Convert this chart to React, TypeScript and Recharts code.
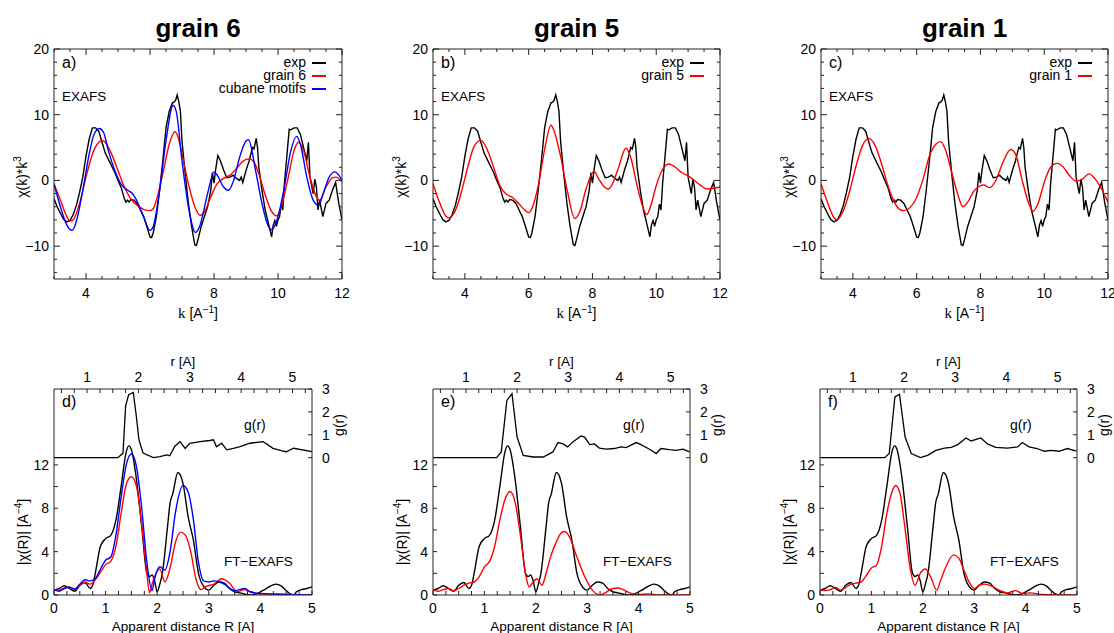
import React from 'react';
import { LineChart, Line, XAxis, YAxis } from 'recharts';

const FONT = '"Liberation Sans", Arial, Helvetica, sans-serif';
const INK = '#222';
const RED = '#ff0000';
const BLUE = '#0000ff';
const BLACK = '#000000';

type P = [number, number];

// ---------- EXAFS chi(k)*k^3 ----------
const expChi: P[] = [
  [3.0, -2.8], [3.1, -4.0], [3.2, -5.0], [3.3, -5.9], [3.4, -6.3], [3.5, -6.1], [3.6, -5.2], [3.7, -3.8],
  [3.8, -1.8], [3.9, 0.5], [4.0, 3.7], [4.1, 6.3], [4.2, 8.0], [4.3, 8.0], [4.4, 7.5], [4.5, 5.8],
  [4.6, 4.2], [4.7, 3.2], [4.8, 2.2], [4.9, 1.2], [5.0, 0], [5.1, -1.1], [5.2, -2.8], [5.25, -3.3],
  [5.3, -3.0], [5.35, -3.3], [5.4, -2.9], [5.5, -3.0], [5.6, -3.5], [5.7, -4.5], [5.8, -5.5], [5.9, -7.0],
  [6.0, -8.6], [6.05, -8.7], [6.1, -8.0], [6.2, -5.5], [6.3, -1.5], [6.4, 3.0], [6.5, 8.0], [6.6, 10.5],
  [6.7, 11.8], [6.75, 11.9], [6.8, 12.2], [6.85, 13.0], [6.9, 12.0], [6.95, 10.5], [7.0, 6.0], [7.1, 1.0],
  [7.2, -3.5], [7.3, -7.0], [7.4, -9.8], [7.45, -9.9], [7.5, -9.0], [7.6, -7.0], [7.7, -5.5], [7.8, -4.0],
  [7.9, -1.5], [7.95, 1.2], [8.0, -0.4], [8.05, 1.6], [8.12, 3.8], [8.2, 3.0], [8.3, 1.6], [8.4, 0.4],
  [8.5, 0.5], [8.6, 0.8], [8.7, 0.3], [8.8, 0], [8.85, 0.5], [8.9, -0.3], [9.0, 1.5], [9.1, 3.0],
  [9.2, 5.0], [9.25, 4.8], [9.32, 6.4], [9.36, 5.0], [9.4, 2.0], [9.5, -1.5], [9.6, -4.5], [9.7, -6.5],
  [9.8, -8.6], [9.85, -6.8], [9.9, -6.1], [9.95, -7.0], [10.0, -6.0], [10.05, -5.5], [10.1, -3.6], [10.15, -4.5],
  [10.2, -0.5], [10.3, 5.0], [10.35, 7.8], [10.4, 7.7], [10.5, 8.0], [10.6, 8.0], [10.7, 7.0], [10.8, 5.0],
  [10.9, 3.0], [10.95, 5.8], [11.0, 0.5], [11.05, -0.8], [11.1, -2.0], [11.15, 0.2], [11.2, -1.0], [11.25, -4.5],
  [11.3, -3.0], [11.4, -5.5], [11.5, -3.5], [11.6, -3.0], [11.7, -1.5], [11.8, -0.3], [11.9, -3.5], [12.0, -6.0],
];

const grain6Chi: P[] = [
  [3.0, -0.5], [3.2, -3.0], [3.4, -5.5], [3.5, -6.2], [3.6, -6.0], [3.8, -3.5], [4.0, 0.5], [4.2, 4.0],
  [4.4, 5.8], [4.5, 6.1], [4.6, 5.8], [4.8, 4.0], [5.0, 1.5], [5.2, -1.0], [5.4, -2.8], [5.6, -3.8],
  [5.8, -4.4], [6.0, -4.6], [6.1, -4.3], [6.2, -3.0], [6.4, 1.0], [6.6, 5.5], [6.78, 7.4], [6.9, 6.2],
  [7.0, 4.0], [7.2, -0.5], [7.4, -4.0], [7.57, -5.3], [7.7, -4.8], [7.9, -2.5], [8.1, -0.5], [8.3, 0.3],
  [8.5, 0.8], [8.7, 1.8], [8.9, 2.9], [9.1, 3.3], [9.25, 2.8], [9.4, 1.0], [9.6, -2.2], [9.8, -4.7],
  [9.97, -5.4], [10.1, -4.0], [10.3, 0.0], [10.5, 4.5], [10.64, 5.8], [10.8, 4.5], [11.0, 0.5], [11.2, -2.5],
  [11.3, -3.0], [11.5, -1.0], [11.7, 0.4], [11.8, 0.5], [12.0, -0.2],
];

const cubaneChi: P[] = [
  [3.0, -0.5], [3.2, -4.0], [3.4, -6.8], [3.57, -7.6], [3.7, -6.2], [3.9, -1.5], [4.1, 4.0], [4.25, 7.0],
  [4.42, 7.9], [4.55, 7.3], [4.7, 4.5], [4.9, 1.5], [5.1, -0.6], [5.3, -1.5], [5.45, -2.0], [5.6, -3.2],
  [5.8, -5.5], [6.0, -7.6], [6.1, -7.0], [6.3, -1.5], [6.5, 6.0], [6.72, 11.4], [6.82, 10.5], [7.0, 3.0],
  [7.2, -4.0], [7.42, -7.9], [7.55, -7.0], [7.8, -2.0], [8.0, 1.3], [8.1, 0.8], [8.3, -1.0], [8.45, -1.5],
  [8.6, -0.2], [8.8, 3.5], [9.0, 6.0], [9.08, 6.2], [9.3, 1.5], [9.5, -3.5], [9.7, -7.0], [9.81, -7.5],
  [10.0, -5.5], [10.2, -1.0], [10.4, 4.5], [10.58, 6.7], [10.7, 5.5], [10.9, 0.5], [11.1, -3.0], [11.27, -3.8],
  [11.4, -2.2], [11.6, 0.5], [11.78, 1.3], [11.9, 0.8], [12.0, 0.0],
];

const grain5Chi: P[] = [
  [3.0, -0.5], [3.2, -3.3], [3.4, -5.4], [3.5, -5.7], [3.7, -4.6], [3.9, -1.6], [4.1, 2.2], [4.3, 5.3],
  [4.5, 6.1], [4.7, 4.7], [4.9, 2.0], [5.1, -0.8], [5.3, -2.1], [5.5, -2.6], [5.7, -3.6], [5.9, -4.6],
  [6.0, -4.9], [6.1, -4.3], [6.3, -0.8], [6.5, 4.7], [6.7, 8.4], [6.8, 7.5], [7.0, 3.7], [7.2, -1.3],
  [7.45, -5.8], [7.6, -4.8], [7.8, -1.3], [8.05, 1.4], [8.2, 0.2], [8.4, -1.1], [8.5, -1.3], [8.6, -0.8],
  [8.8, 1.7], [9.05, 4.9], [9.2, 3.5], [9.4, -0.8], [9.6, -4.3], [9.7, -5.2], [9.8, -4.3], [10.0, -0.8],
  [10.2, 1.7], [10.4, 2.5], [10.6, 2.0], [10.8, 1.2], [11.0, 0.7], [11.2, 0.0], [11.4, -0.8], [11.6, -1.3],
  [11.8, -1.2], [12.0, -1.0],
];

const grain1Chi: P[] = [
  [3.0, -0.5], [3.2, -3.3], [3.4, -5.6], [3.5, -6.0], [3.7, -4.6], [3.9, -1.6], [4.1, 2.2], [4.3, 5.3],
  [4.5, 6.4], [4.7, 5.3], [4.9, 2.5], [5.1, -0.8], [5.3, -3.3], [5.5, -4.5], [5.6, -4.6], [5.8, -4.1],
  [6.0, -2.6], [6.2, 0.2], [6.4, 3.7], [6.6, 5.5], [6.75, 5.9], [6.9, 4.7], [7.1, 1.2], [7.3, -2.3],
  [7.45, -4.0], [7.6, -3.3], [7.8, -1.6], [8.0, -0.8], [8.1, -0.7], [8.3, -1.1], [8.5, 0.2], [8.7, 2.7],
  [8.95, 4.7], [9.1, 4.0], [9.3, 0.2], [9.5, -3.3], [9.65, -4.7], [9.8, -3.6], [10.0, -0.3], [10.2, 2.0],
  [10.4, 2.6], [10.6, 2.0], [10.8, 0.7], [11.0, -0.1], [11.2, 0.2], [11.4, 1.0], [11.6, 0.2], [11.8, -1.3],
  [12.0, -3.3],
];

// ---------- FT-EXAFS |chi(R)| ----------
const expFT: P[] = [
  [0, 0.45], [0.1, 0.6], [0.2, 0.85], [0.3, 0.6], [0.4, 0.35], [0.5, 0.9], [0.6, 1.15], [0.7, 0.6],
  [0.75, 0.9], [0.8, 2.0], [0.9, 4.5], [1.0, 5.2], [1.1, 5.5], [1.2, 6.9], [1.3, 10.0], [1.4, 13.2],
  [1.45, 13.75], [1.5, 13.4], [1.6, 10.6], [1.7, 6.3], [1.8, 2.0], [1.85, 1.7], [1.9, 1.85], [1.95, 1.3],
  [2.0, 0.3], [2.05, 1.0], [2.1, 2.0], [2.2, 6.3], [2.25, 8.5], [2.3, 9.3], [2.4, 11.3], [2.5, 10.3],
  [2.6, 7.2], [2.7, 5.1], [2.8, 2.0], [2.9, 0.8], [3.0, 0.45], [3.1, 0.9], [3.2, 1.2], [3.3, 1.1],
  [3.4, 0.6], [3.5, 0.3], [3.6, 0.2], [3.8, 0.0], [3.9, 0.05], [4.0, 0.3], [4.1, 0.55], [4.2, 0.85],
  [4.3, 1.0], [4.4, 0.85], [4.5, 0.4], [4.6, 0.05], [4.65, 0.0], [4.7, 0.3], [4.8, 0.5], [4.9, 0.6],
  [5.0, 0.75],
];

const grain6FT: P[] = [
  [0, 0.5], [0.1, 0.45], [0.2, 0.65], [0.3, 0.75], [0.4, 0.5], [0.5, 0.9], [0.6, 1.2], [0.7, 1.0],
  [0.8, 1.4], [0.9, 2.1], [1.0, 2.8], [1.1, 3.1], [1.2, 4.5], [1.3, 7.5], [1.4, 10.2], [1.5, 10.9],
  [1.6, 10.0], [1.7, 6.5], [1.8, 2.0], [1.85, 0.2], [1.9, 1.0], [2.0, 2.2], [2.05, 2.4], [2.15, 1.2],
  [2.25, 2.5], [2.35, 4.8], [2.45, 5.8], [2.55, 5.5], [2.65, 4.0], [2.75, 1.5], [2.85, 0.5], [2.95, 0.8],
  [3.1, 1.0], [3.25, 1.5], [3.4, 1.1], [3.55, 0.3], [3.7, 0.5], [3.8, 0.3], [4.0, 0.1], [4.5, 0.05],
  [5.0, 0.0],
];

const cubaneFT: P[] = [
  [0, 0.5], [0.1, 0.35], [0.2, 0.6], [0.3, 0.7], [0.4, 0.55], [0.5, 1.0], [0.6, 1.4], [0.7, 1.3],
  [0.8, 1.5], [0.9, 2.4], [1.0, 3.2], [1.1, 3.5], [1.2, 5.5], [1.3, 9.0], [1.4, 12.0], [1.5, 13.0],
  [1.6, 11.8], [1.7, 8.0], [1.8, 3.0], [1.9, 0.4], [1.95, 1.5], [2.05, 2.6], [2.15, 2.3], [2.25, 4.0],
  [2.35, 7.5], [2.5, 10.1], [2.6, 9.5], [2.7, 7.0], [2.8, 3.0], [2.9, 1.3], [3.0, 1.2], [3.1, 1.3],
  [3.2, 1.2], [3.3, 1.0], [3.5, 0.4], [3.7, 0.6], [3.8, 0.3], [4.0, 0.15], [4.5, 0.05], [5.0, 0.0],
];

const grain5FT: P[] = [
  [0, 0.45], [0.1, 0.35], [0.2, 0.5], [0.3, 0.6], [0.4, 0.4], [0.5, 0.6], [0.6, 0.9], [0.7, 1.1],
  [0.8, 1.2], [0.9, 1.7], [1.0, 2.6], [1.1, 3.1], [1.2, 4.5], [1.3, 6.9], [1.4, 8.8], [1.5, 9.55],
  [1.6, 8.5], [1.7, 5.5], [1.8, 2.0], [1.87, 0.75], [1.95, 1.2], [2.02, 1.5], [2.12, 0.9], [2.2, 2.0],
  [2.3, 3.7], [2.4, 4.9], [2.5, 5.75], [2.56, 5.85], [2.65, 5.4], [2.8, 3.5], [2.95, 1.7], [3.1, 0.45],
  [3.25, 0.0], [3.35, 0.2], [3.5, 0.6], [3.6, 0.65], [3.7, 0.5], [3.85, 0.15], [4.0, 0.05], [4.2, 0.1],
  [4.4, 0.0], [5.0, 0.0],
];

const grain1FT: P[] = [
  [0, 0.5], [0.1, 0.4], [0.2, 0.5], [0.3, 0.7], [0.4, 0.45], [0.5, 0.7], [0.6, 1.0], [0.7, 1.1],
  [0.8, 1.2], [0.9, 1.8], [1.0, 2.5], [1.1, 2.75], [1.2, 4.5], [1.3, 7.5], [1.4, 9.5], [1.47, 10.1],
  [1.55, 9.5], [1.65, 6.3], [1.75, 2.6], [1.85, 0.9], [1.95, 2.0], [2.05, 2.4], [2.15, 1.7], [2.27, 0.45],
  [2.35, 1.4], [2.45, 2.6], [2.6, 3.7], [2.7, 3.4], [2.8, 2.3], [2.9, 1.2], [3.0, 0.6], [3.1, 0.9],
  [3.2, 1.0], [3.35, 0.8], [3.5, 0.4], [3.65, 0.2], [3.8, 0.4], [3.95, 0.15], [4.1, 0.2], [4.3, 0.05],
  [5.0, 0.0],
];

// ---------- g(r) ----------
const gr6: P[] = [
  [0.36, 0], [1.6, 0], [1.7, 0.2], [1.75, 2.25], [1.81, 2.75], [1.9, 2.85], [1.96, 1.8], [2.01, 0.78],
  [2.09, 0.2], [2.29, 0.0], [2.42, 0.05], [2.55, 0.12], [2.61, 0.08], [2.71, 0.5], [2.81, 0.7], [2.91, 0.4],
  [3.0, 0.63], [3.2, 0.7], [3.39, 0.75], [3.46, 0.78], [3.52, 0.48], [3.62, 0.63], [3.72, 0.34], [3.85, 0.41],
  [3.98, 0.48], [4.17, 0.63], [4.43, 0.7], [4.62, 0.41], [4.8, 0.3], [4.88, 0.26], [5.02, 0.41], [5.38, 0.26],
];

const gr5: P[] = [
  [0.36, 0], [1.6, 0], [1.69, 0.25], [1.8, 2.5], [1.9, 2.8], [2.0, 0.9], [2.12, 0.1], [2.31, 0.03],
  [2.51, 0.03], [2.7, 0.25], [2.8, 0.66], [2.9, 0.6], [2.99, 0.47], [3.09, 0.69], [3.25, 0.95], [3.32, 0.9],
  [3.42, 0.57], [3.51, 0.6], [3.61, 0.42], [3.74, 0.37], [3.9, 0.4], [4.03, 0.47], [4.13, 0.44], [4.33, 0.66],
  [4.42, 0.57], [4.59, 0.37], [4.72, 0.18], [4.81, 0.4], [4.98, 0.35], [5.11, 0.32], [5.24, 0.37], [5.37, 0.25],
];

const gr1: P[] = [
  [0.36, 0], [1.62, 0], [1.71, 0.18], [1.82, 2.65], [1.91, 2.77], [2.02, 0.9], [2.14, 0.18], [2.32, 0.0],
  [2.46, 0.1], [2.62, 0.32], [2.79, 0.42], [2.92, 0.45], [3.05, 0.57], [3.21, 0.86], [3.31, 0.73], [3.5, 0.86],
  [3.63, 0.6], [3.79, 0.45], [4.02, 0.42], [4.22, 0.47], [4.31, 0.66], [4.44, 0.47], [4.6, 0.4], [4.74, 0.28],
  [4.87, 0.32], [5.03, 0.28], [5.19, 0.4], [5.37, 0.29],
];

// ---------- ticks ----------
const K_TICKS = [3, 3.5, 4, 4.5, 5, 5.5, 6, 6.5, 7, 7.5, 8, 8.5, 9, 9.5, 10, 10.5, 11, 11.5, 12];
const K_LABELS = [4, 6, 8, 10, 12];
const CHI_TICKS = [-14, -12, -10, -8, -6, -4, -2, 0, 2, 4, 6, 8, 10, 12, 14, 16, 18, 20];
const CHI_LABELS = [-10, 0, 10, 20];
const R_TICKS = [0, 0.25, 0.5, 0.75, 1, 1.25, 1.5, 1.75, 2, 2.25, 2.5, 2.75, 3, 3.25, 3.5, 3.75, 4, 4.25, 4.5, 4.75, 5];
const R_LABELS = [0, 1, 2, 3, 4, 5];
const RT_TICKS = [0.5, 0.75, 1, 1.25, 1.5, 1.75, 2, 2.25, 2.5, 2.75, 3, 3.25, 3.5, 3.75, 4, 4.25, 4.5, 4.75, 5, 5.25];
const RT_LABELS = [1, 2, 3, 4, 5];
const FT_TICKS = [0, 2, 4, 6, 8, 10, 12];
const FT_LABELS = [0, 4, 8, 12];
const G_TICKS = [0, 1, 2, 3];
const G_LABELS = [0, 1, 2, 3];

const pts = (a: P[]) => a.map(([x, y]) => ({ x, y }));
const fmt = (v: number) => (v < 0 ? '\u2212' + Math.abs(v) : String(v));

type Side = 'bottom' | 'top' | 'left' | 'right';

function mkTick(side: Side, labels: number[], show: boolean, majorLen: number, minorLen: number, off: number) {
  return (props: any) => {
    const { x, y, payload } = props;
    const v = payload.value as number;
    const isMajor = labels.some((m) => Math.abs(m - v) < 1e-6);
    const len = isMajor ? majorLen : minorLen;
    const ts = { fontFamily: FONT, fontSize: 14, fill: '#000' } as const;
    let ln: React.ReactNode = null;
    let tx: React.ReactNode = null;
    if (side === 'bottom') {
      ln = <line x1={x} x2={x} y1={y} y2={y - len} stroke={INK} strokeWidth={1} />;
      if (show && isMajor) tx = <text x={x} y={y + off} textAnchor="middle" {...ts}>{fmt(v)}</text>;
    } else if (side === 'top') {
      ln = <line x1={x} x2={x} y1={y} y2={y + len} stroke={INK} strokeWidth={1} />;
      if (show && isMajor) tx = <text x={x} y={y - off} textAnchor="middle" {...ts}>{fmt(v)}</text>;
    } else if (side === 'left') {
      ln = <line x1={x} x2={x + len} y1={y} y2={y} stroke={INK} strokeWidth={1} />;
      if (show && isMajor) tx = <text x={x - off} y={y + 5} textAnchor="end" {...ts}>{fmt(v)}</text>;
    } else {
      ln = <line x1={x} x2={x - len} y1={y} y2={y} stroke={INK} strokeWidth={1} />;
      if (show && isMajor) tx = <text x={x + off} y={y + 5} textAnchor="start" {...ts}>{fmt(v)}</text>;
    }
    return (
      <g>
        {ln}
        {tx}
      </g>
    );
  };
}

const AXIS = { stroke: INK, strokeWidth: 1 };

function Txt({ x, y, anchor = 'start', size = 14, rotate = 0, weight = 400, lh = 1, children }: any) {
  const t = anchor === 'start' ? '0' : anchor === 'middle' ? '-50%' : '-100%';
  return (
    <div
      style={{
        position: 'absolute',
        left: x,
        top: y,
        transform: `translate(${t},-50%)` + (rotate ? ` rotate(${rotate}deg)` : ''),
        whiteSpace: 'nowrap',
        fontFamily: FONT,
        fontSize: size,
        fontWeight: weight,
        lineHeight: lh,
        color: '#000',
      }}
    >
      {children}
    </div>
  );
}

type Series = { name: string; data: P[]; color: string; smooth: boolean };

const TOP_Y = 49;
const TOP_H = 230;

function ChiPanel({ left, width, letter, title, series }: { left: number; width: number; letter: string; title: string; series: Series[] }) {
  const LW = 50, RW = 10, TH = 10, BH = 30;
  const right = left + width;
  const cx = left + width / 2;
  return (
    <>
      <div style={{ position: 'absolute', left: left - LW, top: TOP_Y - TH }}>
        <LineChart width={LW + width + RW} height={TH + TOP_H + BH} margin={{ top: 0, right: 0, bottom: 0, left: 0 }}>
          <XAxis xAxisId="k" type="number" dataKey="x" domain={[3, 12]} ticks={K_TICKS} interval={0} allowDataOverflow
            height={BH} tickSize={0} tickMargin={0} tickLine={false} axisLine={AXIS} tick={mkTick('bottom', K_LABELS, true, 6, 3, 19)} />
          <XAxis xAxisId="kt" orientation="top" type="number" dataKey="x" domain={[3, 12]} ticks={K_TICKS} interval={0} allowDataOverflow
            height={TH} tickSize={0} tickMargin={0} tickLine={false} axisLine={AXIS} tick={mkTick('top', K_LABELS, false, 6, 3, 0)} />
          <YAxis yAxisId="c" type="number" domain={[-15, 20]} ticks={CHI_TICKS} interval={0} allowDataOverflow
            width={LW} tickSize={0} tickMargin={0} tickLine={false} axisLine={AXIS} tick={mkTick('left', CHI_LABELS, true, 6, 3, 5)} />
          <YAxis yAxisId="cr" orientation="right" type="number" domain={[-15, 20]} ticks={CHI_TICKS} interval={0} allowDataOverflow
            width={RW} tickSize={0} tickMargin={0} tickLine={false} axisLine={AXIS} tick={mkTick('right', CHI_LABELS, false, 6, 3, 0)} />
          {series.map((s) => (
            <Line key={s.name} xAxisId="k" yAxisId="c" data={pts(s.data)} dataKey="y" name={s.name}
              type={s.smooth ? 'monotone' : 'linear'} stroke={s.color} strokeWidth={1.4} dot={false} activeDot={false} isAnimationActive={false} />
          ))}
        </LineChart>
      </div>
      <Txt x={cx} y={28} anchor="middle" size={26} weight={700}>{title}</Txt>
      <Txt x={left + 8} y={63} size={16}>{letter}</Txt>
      <Txt x={left + 8} y={97} size={13.5}>EXAFS</Txt>
      {series.map((s, i) => (
        <React.Fragment key={s.name}>
          <Txt x={right - 36} y={62 + i * 13} anchor="end" size={14} lh="12px">{s.name}</Txt>
          <div style={{ position: 'absolute', left: right - 30, top: 62 + i * 13, width: 14, height: 1.5, background: s.color }} />
        </React.Fragment>
      ))}
      <Txt x={cx} y={313} anchor="middle" size={14}>
        <span style={{ fontFamily: '"Liberation Serif", serif', fontSize: 15 }}>k</span> [A<sup style={{ fontSize: 10 }}>−1</sup>]
      </Txt>
      <Txt x={left - 33} y={177} anchor="middle" size={14} rotate={-90}>
        χ(k)*k<sup style={{ fontSize: 10 }}>3</sup>
      </Txt>
    </>
  );
}

const BOT_Y = 389;
const BOT_H = 206;

function FTPanel({ left, width, letter, gr, series }: { left: number; width: number; letter: string; gr: P[]; series: Series[] }) {
  const LW = 50, RW = 34, TH = 32, BH = 26;
  const right = left + width;
  const cx = left + width / 2;
  return (
    <>
      <div style={{ position: 'absolute', left: left - LW, top: BOT_Y - TH }}>
        <LineChart width={LW + width + RW} height={TH + BOT_H + BH} margin={{ top: 0, right: 0, bottom: 0, left: 0 }}>
          <XAxis xAxisId="R" type="number" dataKey="x" domain={[0, 5]} ticks={R_TICKS} interval={0} allowDataOverflow
            height={BH} tickSize={0} tickMargin={0} tickLine={false} axisLine={AXIS} tick={mkTick('bottom', R_LABELS, true, 4, 4, 18)} />
          <XAxis xAxisId="r" orientation="top" type="number" dataKey="x" domain={[0.356, 5.38]} ticks={RT_TICKS} interval={0} allowDataOverflow
            height={TH} tickSize={0} tickMargin={0} tickLine={false} axisLine={AXIS} tick={mkTick('top', RT_LABELS, true, 4, 4, 7)} />
          <YAxis yAxisId="F" type="number" domain={[0, 19]} ticks={FT_TICKS} interval={0} allowDataOverflow
            width={LW} tickSize={0} tickMargin={0} tickLine={false} axisLine={AXIS} tick={mkTick('left', FT_LABELS, true, 4, 4, 5)} />
          <YAxis yAxisId="g" orientation="right" type="number" domain={[-6, 3]} ticks={G_TICKS} interval={0} allowDataOverflow
            width={RW} tickSize={0} tickMargin={0} tickLine={false} axisLine={AXIS} tick={mkTick('right', G_LABELS, true, 4, 4, 10)} />
          <Line xAxisId="r" yAxisId="g" data={pts(gr)} dataKey="y" name="g(r)" type="linear" stroke={BLACK}
            strokeWidth={1.3} dot={false} activeDot={false} isAnimationActive={false} />
          {series.map((s) => (
            <Line key={s.name} xAxisId="R" yAxisId="F" data={pts(s.data)} dataKey="y" name={s.name}
              type="monotone" stroke={s.color} strokeWidth={1.4} dot={false} activeDot={false} isAnimationActive={false} />
          ))}
        </LineChart>
      </div>
      <Txt x={left + 8} y={402} size={16}>{letter}</Txt>
      <Txt x={left + 190} y={425} size={14}>g(r)</Txt>
      <Txt x={left + 170} y={562} size={13.5}>FT−EXAFS</Txt>
      <Txt x={cx} y={362} anchor="middle" size={13.5}>r [A]</Txt>
      <Txt x={cx} y={627} anchor="middle" size={13.5}>Apparent distance R [A]</Txt>
      <Txt x={left - 32} y={532} anchor="middle" size={14} rotate={-90}>
        |χ(R)| [A<sup style={{ fontSize: 10 }}>−4</sup>]
      </Txt>
      <Txt x={right + 27} y={425} anchor="middle" size={14} rotate={-90}>g(r)</Txt>
    </>
  );
}

export default function App() {
  return (
    <div style={{ position: 'absolute', left: 0, top: 0, width: 1114, height: 633, background: '#fff', overflow: 'hidden' }}>
      <ChiPanel left={54} width={288} letter="a)" title="grain 6" series={[
        { name: 'exp', data: expChi, color: BLACK, smooth: false },
        { name: 'grain 6', data: grain6Chi, color: RED, smooth: true },
        { name: 'cubane motifs', data: cubaneChi, color: BLUE, smooth: true },
      ]} />
      <ChiPanel left={433} width={287} letter="b)" title="grain 5" series={[
        { name: 'exp', data: expChi, color: BLACK, smooth: false },
        { name: 'grain 5', data: grain5Chi, color: RED, smooth: true },
      ]} />
      <ChiPanel left={821} width={287} letter="c)" title="grain 1" series={[
        { name: 'exp', data: expChi, color: BLACK, smooth: false },
        { name: 'grain 1', data: grain1Chi, color: RED, smooth: true },
      ]} />
      <FTPanel left={54} width={258} letter="d)" gr={gr6} series={[
        { name: 'exp', data: expFT, color: BLACK, smooth: true },
        { name: 'grain 6', data: grain6FT, color: RED, smooth: true },
        { name: 'cubane motifs', data: cubaneFT, color: BLUE, smooth: true },
      ]} />
      <FTPanel left={433} width={257} letter="e)" gr={gr5} series={[
        { name: 'exp', data: expFT, color: BLACK, smooth: true },
        { name: 'grain 5', data: grain5FT, color: RED, smooth: true },
      ]} />
      <FTPanel left={820} width={257} letter="f)" gr={gr1} series={[
        { name: 'exp', data: expFT, color: BLACK, smooth: true },
        { name: 'grain 1', data: grain1FT, color: RED, smooth: true },
      ]} />
    </div>
  );
}
